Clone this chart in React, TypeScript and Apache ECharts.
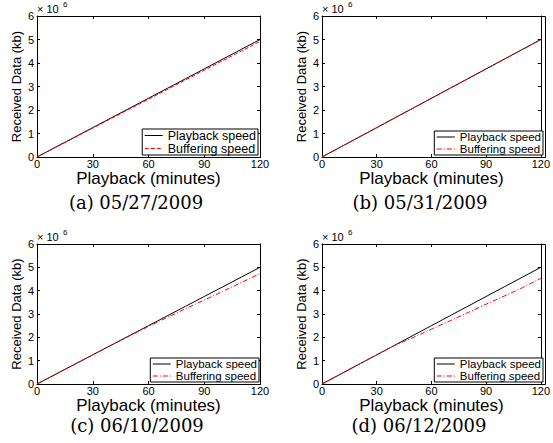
import React, { useEffect, useRef } from "react";
import * as echarts from "echarts";

const minutes = [0, 10, 20, 30, 40, 50, 60, 70, 80, 90, 100, 110, 120];
const xTicks = [0, 30, 60, 90, 120];
const yTicks = [0, 1, 2, 3, 4, 5, 6];
const playback = [0, 0.417, 0.833, 1.25, 1.667, 2.083, 2.5, 2.917, 3.333, 3.75, 4.167, 4.583, 5.0];
const bufferingA = [0, 0.41, 0.82, 1.23, 1.64, 2.05, 2.46, 2.87, 3.28, 3.69, 4.1, 4.51, 4.92];
const bufferingB = [0, 0.416, 0.832, 1.248, 1.664, 2.08, 2.496, 2.912, 3.328, 3.744, 4.16, 4.576, 4.99];
const bufferingC = [0, 0.417, 0.833, 1.25, 1.66, 2.07, 2.47, 2.85, 3.23, 3.6, 3.97, 4.35, 4.73];
const bufferingD = [0, 0.417, 0.833, 1.25, 1.66, 1.99, 2.35, 2.7, 3.06, 3.42, 3.77, 4.13, 4.53];
const captions = ["(a) 05/27/2009", "(b) 05/31/2009", "(c) 06/10/2009", "(d) 06/12/2009"];
const seriesNames = ["Playback speed", "Buffering speed"];

const grids = [
  { left: 37, top: 16, width: 223, height: 141 },
  { left: 322, top: 16, width: 223, height: 141 },
  { left: 37, top: 244, width: 223, height: 140 },
  { left: 322, top: 244, width: 223, height: 140 },
];
const legendPos = [
  { right: 295, bottom: 288, font: 12.5 },
  { right: 10, bottom: 288, font: 11.5 },
  { right: 294, bottom: 61, font: 11.5 },
  { right: 10, bottom: 61, font: 11.5 },
];
const captionPos = [
  { x: 136, y: 202 },
  { x: 420, y: 202 },
  { x: 137, y: 425 },
  { x: 419, y: 425 },
];
const dashTypes: any[] = ["dashed", [5, 2, 1, 2], [5, 2, 1, 2], [5, 2, 1, 2]];
const buffering = [bufferingA, bufferingB, bufferingC, bufferingD];

const FONT = "Liberation Sans, Arial, Helvetica, sans-serif";

export default function App() {
  const ref = useRef<HTMLDivElement>(null);
  useEffect(() => {
    if (!ref.current) return;
    const chart = echarts.init(ref.current, undefined, { renderer: "svg" });
    const xAxis: any[] = [];
    const yAxis: any[] = [];
    const series: any[] = [];
    const legend: any[] = [];
    const graphic: any[] = [];
    grids.forEach((g, i) => {
      xAxis.push({
        type: "value",
        gridIndex: i,
        min: 0,
        max: 120,
        interval: 30,
        position: "bottom",
        axisLine: { show: true, onZero: false, lineStyle: { color: "#000", width: 1 } },
        axisTick: { show: true, inside: true, length: 3, lineStyle: { color: "#000" } },
        splitLine: { show: false },
        name: "Playback (minutes)",
        nameLocation: "middle",
        nameGap: 9,
        nameTextStyle: { color: "#000", fontFamily: FONT, fontSize: 17, verticalAlign: "top" },
        axisLabel: {
          color: "#000",
          fontFamily: FONT,
          fontSize: 11,
          margin: 1,
          formatter: (v: number) => (xTicks.includes(v) ? String(v) : ""),
        },
      });
      xAxis.push({
        type: "value",
        gridIndex: i,
        min: 0,
        max: 120,
        interval: 30,
        position: "top",
        axisLine: { show: true, onZero: false, lineStyle: { color: "#000", width: 1 } },
        axisTick: { show: true, inside: true, length: 3, lineStyle: { color: "#000" } },
        axisLabel: { show: false },
        splitLine: { show: false },
      });
      yAxis.push({
        type: "value",
        gridIndex: i,
        min: 0,
        max: 6e6,
        interval: 1e6,
        position: "left",
        axisLine: { show: true, onZero: false, lineStyle: { color: "#000", width: 1 } },
        axisTick: { show: true, inside: true, length: 3, lineStyle: { color: "#000" } },
        splitLine: { show: false },
        name: "Received Data (kb)",
        nameLocation: "middle",
        nameGap: 14,
        nameTextStyle: { color: "#000", fontFamily: FONT, fontSize: 13 },
        axisLabel: {
          color: "#000",
          fontFamily: FONT,
          fontSize: 11,
          margin: 3,
          formatter: (v: number) => (yTicks.includes(v / 1e6) ? String(v / 1e6) : ""),
        },
      });
      yAxis.push({
        type: "value",
        gridIndex: i,
        min: 0,
        max: 6e6,
        interval: 1e6,
        position: "right",
        axisLine: { show: true, onZero: false, lineStyle: { color: "#000", width: 1 } },
        axisTick: { show: true, inside: true, length: 3, lineStyle: { color: "#000" } },
        axisLabel: { show: false },
        splitLine: { show: false },
      });
      series.push({
        type: "line",
        name: seriesNames[0],
        xAxisIndex: i * 2,
        yAxisIndex: i * 2,
        symbol: "none",
        lineStyle: { color: "#000", width: 1 },
        itemStyle: { color: "#000" },
        data: minutes.map((m, k) => [m, playback[k] * 1e6]),
        z: 2,
      });
      series.push({
        type: "line",
        name: seriesNames[1],
        xAxisIndex: i * 2,
        yAxisIndex: i * 2,
        symbol: "none",
        lineStyle: { color: "#ff0000", width: 1, type: dashTypes[i] },
        itemStyle: { color: "#ff0000" },
        data: minutes.map((m, k) => [m, buffering[i][k] * 1e6]),
        z: 3,
      });
      const lp = legendPos[i];
      legend.push({
        right: lp.right,
        bottom: lp.bottom,
        orient: "vertical",
        backgroundColor: "#fff",
        borderColor: "#000",
        borderWidth: 1,
        borderRadius: 0,
        padding: [0, 2, 0, 2],
        itemGap: 0,
        itemWidth: 18,
        itemHeight: 8,
        selectedMode: false,
        z: 10,
        textStyle: { color: "#000", fontFamily: FONT, fontSize: lp.font, lineHeight: 11 },
        data: [
          {
            name: seriesNames[0],
            itemStyle: { opacity: 0 },
            lineStyle: { color: "#000", width: 1, type: "solid" },
          },
          {
            name: seriesNames[1],
            itemStyle: { opacity: 0 },
            lineStyle: { color: "#ff0000", width: 1, type: dashTypes[i] },
          },
        ],
      });
      // frame of the plot area (layout only)
      graphic.push({
        type: "rect",
        z: 1,
        silent: true,
        shape: { x: g.left + 0.5, y: g.top + 0.5, width: g.width, height: g.height },
        style: { fill: "none", stroke: "#000", lineWidth: 1 },
      });
      graphic.push({
        type: "text",
        x: g.left,
        y: g.top - 2,
        style: { text: "× 10", font: `11px ${FONT}`, fill: "#000", textVerticalAlign: "bottom" },
      });
      graphic.push({
        type: "text",
        x: g.left + 26,
        y: g.top - 8,
        style: { text: "6", font: `8px ${FONT}`, fill: "#000", textVerticalAlign: "bottom" },
      });
      const cp = captionPos[i];
      graphic.push({
        type: "text",
        x: cp.x,
        y: cp.y,
        style: {
          text: captions[i],
          font: `18px "DejaVu Serif", "Liberation Serif", serif`,
          fill: "#000",
          textAlign: "center",
          textVerticalAlign: "middle",
        },
      });
    });
    chart.setOption({
      animation: false,
      backgroundColor: "#fff",
      grid: grids.map((g) => ({ ...g, show: false })),
      xAxis,
      yAxis,
      series,
      legend,
      graphic,
    });
    return () => chart.dispose();
  }, []);
  return (
    <div
      ref={ref}
      style={{ position: "fixed", left: 0, top: 0, width: 553, height: 443, background: "#fff" }}
    />
  );
}
